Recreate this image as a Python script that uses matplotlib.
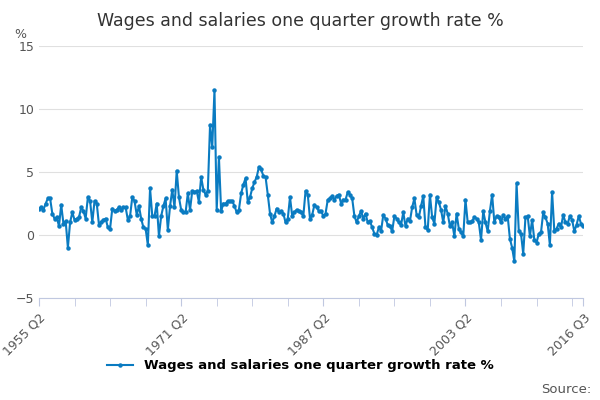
import matplotlib.pyplot as plt

values = [
    2.1, 2.2, 2.0,
    2.5, 2.9, 2.9, 1.7,  1.3, 1.4, 0.7, 2.4,  0.9, 1.1, -1.0, 1.0,  1.8, 1.2, 1.3, 1.4,
    2.2, 1.9, 1.3, 3.0,  2.7, 1.0, 2.7, 2.5,  0.8, 1.0, 1.2, 1.3,  0.6, 0.5, 2.1, 1.9,
    2.0, 2.2, 2.0, 2.2,  2.2, 1.2, 1.5, 3.0,  2.7, 1.6, 2.3, 1.3,  0.6, 0.5, -0.8, 3.7,
    1.5, 1.5, 2.5, -0.1, 1.5, 2.3, 2.9, 0.4,  2.3, 3.6, 2.2, 5.1,  3.0, 2.0, 1.8, 1.8,
    3.3, 2.0, 3.5, 3.4,  3.5, 2.6, 4.6, 3.6,  3.2, 3.5, 8.7, 7.0,  11.5, 2.0, 6.2, 1.9,
    2.5, 2.5, 2.7, 2.7,  2.7, 2.3, 1.8, 2.0,  3.3, 4.0, 4.5, 2.6,  3.0, 3.7, 4.2, 4.6,
    5.4, 5.2, 4.7, 4.6,  3.2, 1.7, 1.0, 1.5,  2.1, 1.8, 1.9, 1.7,  1.0, 1.3, 3.0, 1.5,
    1.8, 2.0, 1.9, 1.8,  1.5, 3.5, 3.2, 1.3,  1.6, 2.4, 2.2, 1.9,  1.9, 1.5, 1.7, 2.8,
    2.9, 3.1, 2.8, 3.1,  3.2, 2.5, 2.8, 2.8,  3.4, 3.2, 2.9, 1.5,  1.0, 1.5, 1.9, 1.3,
    1.7, 1.0, 1.1, 0.6,  0.1, 0.0, 0.6, 0.3,  1.6, 1.3, 0.8, 0.7,  0.3, 1.5, 1.3, 1.0,
    0.8, 1.8, 0.7, 1.3,  1.1, 2.2, 2.9, 1.6,  1.4, 2.3, 3.1, 0.6,  0.4, 3.2, 1.4, 0.9,
    3.0, 2.6, 2.0, 1.0,  2.3, 1.7, 0.7, 1.0,  -0.1, 1.7, 0.5, 0.2, -0.1, 2.8, 1.0, 1.0,
    1.1, 1.4, 1.3, 1.0,  -0.4, 1.9, 1.0, 0.3, 1.9, 3.2, 1.0, 1.5,  1.4, 1.0, 1.6, 1.3,
    1.5, -0.3, -1.0, -2.1, 4.1, 0.3, 0.1, -1.5, 1.4, 1.5, -0.1, 1.2, -0.4, -0.6, 0.1, 0.2,
    1.8, 1.4, 0.9, -0.8, 3.4, 0.3, 0.5, 0.9,  0.6, 1.6, 1.0, 0.9,  1.5, 1.2, 0.3, 0.8,
    1.5, 0.9, 0.7,
]
tick_pos = [0, 64, 128, 192, 245]
tick_labels = ['1955 Q2', '1971 Q2', '1987 Q2', '2003 Q2', '2016 Q3']
label = 'Wages and salaries one quarter growth rate %'

fig, ax = plt.subplots(figsize=(6, 4), dpi=100)
fig.subplots_adjust(left=0.065, right=0.972, top=0.885, bottom=0.255)
ax.plot(range(len(values)), values, color='#0a7bc1', lw=1.5, marker='o', ms=2.2, label=label)
ax.set_xlim(0, len(values) - 1)
ax.set_ylim(-5, 15)
ax.set_yticks([-5, 0, 5, 10, 15])
ax.grid(axis='y', color='#e0e0e0', lw=0.8)
ax.set_axisbelow(True)
ax.set_xticks(tick_pos)
ax.set_xticks(range(16, 245, 16), minor=True)
ax.set_xticklabels(tick_labels, rotation=45, ha='right', rotation_mode='anchor', color='#555555', fontsize=9)
ax.tick_params(axis='x', which='both', length=6, color='#c0c8e0')
ax.tick_params(axis='y', length=0, labelcolor='#555555', labelsize=9)
for s in ['top', 'right', 'left']:
    ax.spines[s].set_visible(False)
ax.spines['bottom'].set_color('#c0c8e0')
ax.text(-0.045, 1.03, '%', transform=ax.transAxes, color='#555555', fontsize=9)
fig.suptitle('Wages and salaries one quarter growth rate %', fontsize=12.5, color='#333333', y=0.97)
fig.legend(loc='lower center', bbox_to_anchor=(0.5, 0.04), frameon=False, prop={'size': 9.5, 'weight': 'bold'})
fig.text(0.985, 0.01, 'Source:', ha='right', va='bottom', color='#555555', fontsize=9.5)
fig.savefig('out.png')
